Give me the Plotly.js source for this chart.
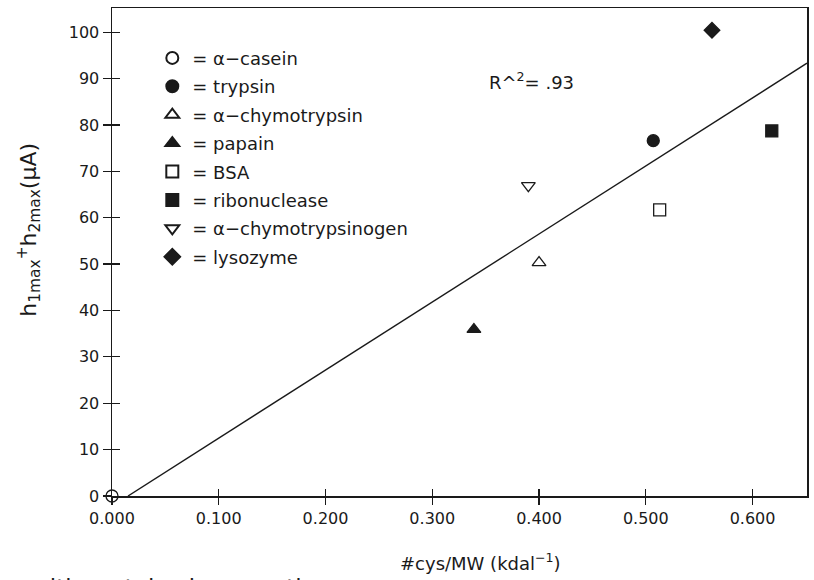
<!DOCTYPE html>
<html>
<head>
<meta charset="utf-8">
<script src="https://cdn.plot.ly/plotly-3.0.1.min.js"></script>
<style>html,body{margin:0;padding:0;background:#fff;}#chart{width:814px;height:580px;}</style>
</head>
<body>
<div id="chart"></div>
<script>
// ---- data ----
var proteins = ["α−casein", "trypsin", "α−chymotrypsin", "papain", "BSA", "ribonuclease", "α−chymotrypsinogen", "lysozyme"];
var cysPerMW = [0.000, 0.507, 0.400, 0.339, 0.513, 0.618, 0.390, 0.562];
var peakSum  = [0.0, 76.6, 50.3, 35.9, 61.7, 78.7, 66.9, 100.4];
var symbols  = ["circle-open", "circle", "triangle-up-open", "triangle-up", "square-open", "square", "triangle-down-open", "diamond"];
var fitX = [0.015, 0.651];
var fitY = [0.0, 93.3];
var xTicks = [0, 0.1, 0.2, 0.3, 0.4, 0.5, 0.6];
var yTicks = [0, 10, 20, 30, 40, 50, 60, 70, 80, 90, 100];
var rSquaredText = "R^<sup>2</sup>= .93";

var FONT = "DejaVu Sans, sans-serif";
var INK = "#1a1a1a";
var XR = [0, 0.651];
var YR = [0, 105.2];

var traces = [];
for (var i = 0; i < proteins.length; i++) {
  traces.push({
    type: "scatter", mode: "markers",
    x: [cysPerMW[i]], y: [peakSum[i]],
    name: "= " + proteins[i],
    legendgroup: "g" + i,
    cliponaxis: false,
    marker: {symbol: symbols[i], size: 12, color: INK,
             line: {color: INK, width: 1.3}}
  });
}
traces.push({
  type: "scatter", mode: "lines", x: fitX, y: fitY,
  xaxis: "x2", yaxis: "y2",
  showlegend: false, hoverinfo: "skip",
  line: {color: INK, width: 1.4}
});

var layout = {
  width: 814, height: 580,
  margin: {l: 112, r: 7, t: 8, b: 84},
  paper_bgcolor: "#fff", plot_bgcolor: "#fff",
  font: {family: FONT, color: INK, size: 16},
  showlegend: true,
  legend: {x: 0.058, xanchor: "left", y: 0.935, yanchor: "top",
           bgcolor: "rgba(0,0,0,0)", borderwidth: 0,
           font: {family: FONT, size: 18, color: INK},
           tracegroupgap: 2, itemsizing: "constant"},
  xaxis: {range: XR, tickvals: xTicks, tickformat: ".3f",
          ticks: "outside", ticklen: 7, tickwidth: 1.2, tickcolor: INK,
          showline: true, linecolor: INK, linewidth: 1.5, mirror: true,
          showgrid: false, zeroline: false,
          tickfont: {family: FONT, size: 16, color: INK}},
  yaxis: {range: YR, tickvals: yTicks,
          ticks: "outside", ticklen: 8, tickwidth: 1.2, tickcolor: INK,
          showline: true, linecolor: INK, linewidth: 1.5, mirror: true,
          showgrid: false, zeroline: false,
          tickfont: {family: FONT, size: 16, color: INK}},
  xaxis2: {range: XR, overlaying: "x", anchor: "y2", side: "bottom",
           tickvals: xTicks, ticks: "inside", ticklen: 7, tickwidth: 1.2, tickcolor: INK,
           showticklabels: false, showline: false, showgrid: false, zeroline: false},
  yaxis2: {range: YR, overlaying: "y", anchor: "x2", side: "left",
           tickvals: yTicks, ticks: "inside", ticklen: 8, tickwidth: 1.2, tickcolor: INK,
           showticklabels: false, showline: false, showgrid: false, zeroline: false},
  annotations: [
    {xref: "x", yref: "y", x: 0.393, y: 89.5, text: rSquaredText, showarrow: false,
     font: {family: FONT, size: 18, color: INK}},
    {xref: "paper", yref: "paper", x: -0.12, xanchor: "center", y: 0.545, textangle: -90,
     text: "h<sub>1max</sub><sup>+</sup>h<sub>2max</sub>(μA)", showarrow: false,
     font: {family: FONT, size: 22, color: INK}},
    {xref: "paper", yref: "paper", x: 0.53, y: -0.135, yanchor: "middle",
     text: "#cys/MW (kdal<sup>−1</sup>)", showarrow: false,
     font: {family: FONT, size: 18, color: INK}},
    {xref: "paper", yref: "paper", x: 0.335, xanchor: "right", y: -0.157, yanchor: "top",
     text: "with protein charge ratings", showarrow: false,
     font: {family: FONT, size: 23, color: INK}}
  ]
};

Plotly.newPlot("chart", traces, layout, {displayModeBar: false, staticPlot: true});
</script>
</body>
</html>
